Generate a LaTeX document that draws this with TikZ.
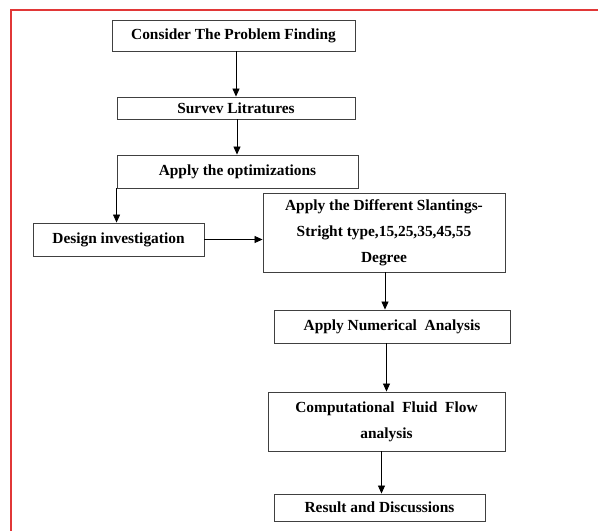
\documentclass[tikz,border=0pt]{standalone}
\usepackage{fontspec}
\setmainfont{Liberation Serif}
\usetikzlibrary{arrows.meta}
\definecolor{frame}{RGB}{225,55,55}
\begin{document}
\begin{tikzpicture}[x=1pt,y=-1pt,
  box/.style={draw=black!75,line width=0.9pt,fill=white,inner sep=0pt,align=center,
    font=\fontsize{15.4}{26}\selectfont\bfseries},
  arr/.style={draw=black,line width=0.8pt,-{Triangle[length=8pt,width=7pt]}}]
\useasboundingbox (0,0) rectangle (598,531);
\coordinate (tl) at (11,10);
\coordinate (tr) at (598,10);
\coordinate (bl) at (11,531);
\draw[frame,line width=1.3pt] (tr) -- (tl) -- (bl);
\node[box,minimum width=243pt,minimum height=31pt] (b1) at (233.5,35.5) {Consider The Problem Finding};
\node[box,minimum width=238pt,minimum height=22pt] (b2) at (236,108) {Survev Litratures};
\node[box,minimum width=241pt,minimum height=33pt] (b3) at (237.5,171.5) {Apply the optimizations};
\node[box,minimum width=171pt,minimum height=33pt] (b4) at (118.5,239.5) {Design investigation};
\node[box,minimum width=242pt,minimum height=79pt] (b5) at (384,232.5) {Apply the Different Slantings-\\Stright type,15,25,35,45,55\\Degree};
\node[box,minimum width=236pt,minimum height=33pt] (b6) at (392,326.5) {Apply Numerical\ \ Analysis};
\node[box,minimum width=237pt,minimum height=59pt] (b7) at (386.5,421.5) {Computational\ \ Fluid\ \ Flow\\analysis};
\node[box,minimum width=211pt,minimum height=27pt] (b8) at (379.5,507.5) {Result and Discussions};
\draw[arr] ([xshift=2.5pt]b1.south) -- ([xshift=2.5pt]b1.south |- b2.north);
\draw[arr] ([xshift=1pt]b2.south) -- ([xshift=1pt]b2.south |- b3.north);
\draw[arr] (b3.south west) -- (b3.south west |- b4.north);
\draw[arr] (b4.east) -- (b4.east -| b5.west);
\draw[arr] ([xshift=1pt]b5.south) -- ([xshift=1pt]b5.south |- b6.north);
\draw[arr] (b7.north |- b6.south) -- (b7.north);
\draw[arr] ([xshift=-5pt]b7.south) -- ([xshift=-5pt]b7.south |- b8.north);
\end{tikzpicture}
\end{document}
